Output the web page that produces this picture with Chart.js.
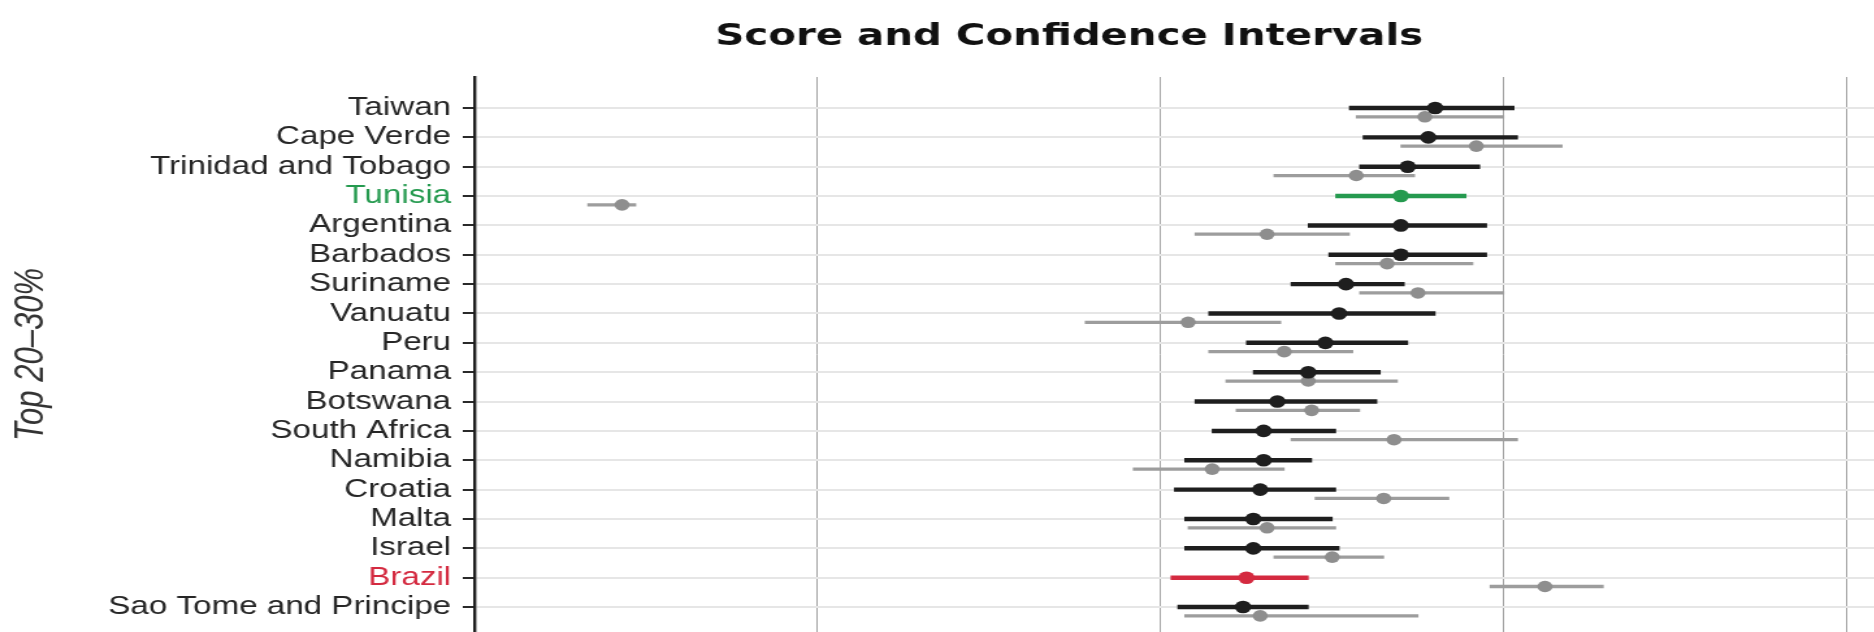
<!DOCTYPE html>
<html>
<head>
<meta charset="utf-8">
<title>Score and Confidence Intervals</title>
<script src="https://cdn.jsdelivr.net/npm/chart.js@4.4.1/dist/chart.umd.min.js"></script>
<style>
  html, body { margin: 0; padding: 0; background: #fff; overflow: hidden; }
  /* the source picture is a horizontally stretched, right-cropped plot */
  #wrap { width: 1874px; height: 632px; overflow: hidden; }
  #chart { display: block; }
</style>
</head>
<body>
<div id="wrap">
  <canvas id="chart" width="1660" height="632" style="width:2158px;height:632px"></canvas>
</div>
<script>
const titleText = 'Score and Confidence Intervals';
const groupLabel = 'Top 20–30%';

const countries = [
    'Taiwan', 'Cape Verde', 'Trinidad and Tobago', 'Tunisia', 'Argentina', 'Barbados',
    'Suriname', 'Vanuatu', 'Peru', 'Panama', 'Botswana', 'South Africa',
    'Namibia', 'Croatia', 'Malta', 'Israel', 'Brazil', 'Sao Tome and Principe'
];

// main estimate and its interval
const score = [280, 278, 272, 270, 270, 270, 254, 252, 248, 243, 234, 230, 230, 229, 227, 227, 225, 224];
const low   = [255, 259, 258, 251, 243, 249, 238, 214, 225, 227, 210, 215, 207, 204, 207, 207, 203, 205];
const high  = [303, 304, 293, 289, 295, 295, 271, 280, 272, 264, 263, 251, 244, 251, 250, 252, 243, 243];

// comparison estimate (grey) and its interval
const cmpScore = [277, 292, 257, 43, 231, 266, 275, 208, 236, 243, 244, 268, 215, 265, 231, 250, 312, 229];
const cmpLow   = [257, 270, 233, 33, 210, 251, 258, 178, 214, 219, 222, 238, 192, 245, 208, 233, 296, 207];
const cmpHigh  = [300, 317, 274, 47, 255, 291, 300, 235, 256, 269, 258, 304, 236, 284, 251, 265, 329, 275];

const highlight = { 'Tunisia': '#259a4f', 'Brazil': '#d42a40' };

const GRAY_OFFSET = 0.3;   // grey row sits a little under the main one
const mainColors = countries.map(c => highlight[c] || '#1e1e1e');

Chart.defaults.font.family = "'Liberation Sans', Arial, sans-serif";

new Chart(document.getElementById('chart'), {
    type: 'scatter',
    data: {
        datasets: [
            {
                type: 'scatter',
                label: 'Score',
                data: countries.map((c, i) => ({ x: score[i], y: i })),
                pointRadius: 6.3,
                pointBackgroundColor: mainColors,
                pointBorderWidth: 0
            },
            {
                type: 'bar',
                label: 'Score CI',
                indexAxis: 'y',
                grouped: false,
                data: countries.map((c, i) => ({ x: [low[i], high[i]], y: i })),
                backgroundColor: mainColors,
                barThickness: 3.8,
                borderWidth: 0
            },
            {
                type: 'scatter',
                label: 'Comparison',
                data: countries.map((c, i) => ({ x: cmpScore[i], y: i + GRAY_OFFSET })),
                pointRadius: 5.8,
                pointBackgroundColor: '#8e8e8e',
                pointBorderWidth: 0
            },
            {
                type: 'bar',
                label: 'Comparison CI',
                indexAxis: 'y',
                grouped: false,
                data: countries.map((c, i) => ({ x: [cmpLow[i], cmpHigh[i]], y: i + GRAY_OFFSET })),
                backgroundColor: '#9d9d9d',
                barThickness: 2.6,
                borderWidth: 0
            }
        ]
    },
    options: {
        responsive: false,
        devicePixelRatio: 1,
        animation: false,
        events: [],
        layout: {
            padding: { left: 0, right: 15, top: 0, bottom: 0 },
            autoPadding: false
        },
        plugins: {
            legend: { display: false },
            tooltip: { enabled: false },
            title: {
                display: true,
                text: titleText,
                color: '#111111',
                font: { family: "'DejaVu Sans', sans-serif", size: 31, weight: 'bold', lineHeight: 1.2 },
                padding: { top: 18, bottom: 21.8 }
            }
        },
        scales: {
            x: {
                type: 'linear',
                position: 'bottom',
                min: 0,
                max: 485,
                offset: false,
                ticks: { display: false, stepSize: 100 },
                grid: { color: '#a3a3a3', lineWidth: 1, drawTicks: false, offset: false },
                border: { display: false }
            },
            y: {
                type: 'linear',
                position: 'left',
                reverse: true,
                min: -1.056,
                max: 17.85,
                offset: false,
                afterBuildTicks: axis => {
                    axis.ticks = countries.map((c, i) => ({ value: i }));
                },
                afterFit: axis => {
                    axis.width = 365;
                    // let the plot run to the bottom edge, like the cropped source
                    axis.paddingTop = 0;
                    axis.paddingBottom = 0;
                },
                ticks: {
                    autoSkip: false,
                    padding: 9,
                    font: { size: 25.5 },
                    color: ctx => highlight[countries[ctx.tick.value]] || '#262626',
                    callback: value => countries[value]
                },
                grid: {
                    color: '#e6e6e6',
                    lineWidth: 2,
                    tickColor: '#2a2a2a',
                    tickLength: 9,
                    drawTicks: true,
                    offset: false
                },
                border: { display: true, color: '#1e1e1e', width: 2.4 },
                title: {
                    display: true,
                    text: groupLabel,
                    color: '#333333',
                    font: { size: 31, style: 'italic' },
                    padding: { top: 5.4, bottom: 0 }
                }
            }
        }
    }
});
</script>
</body>
</html>
